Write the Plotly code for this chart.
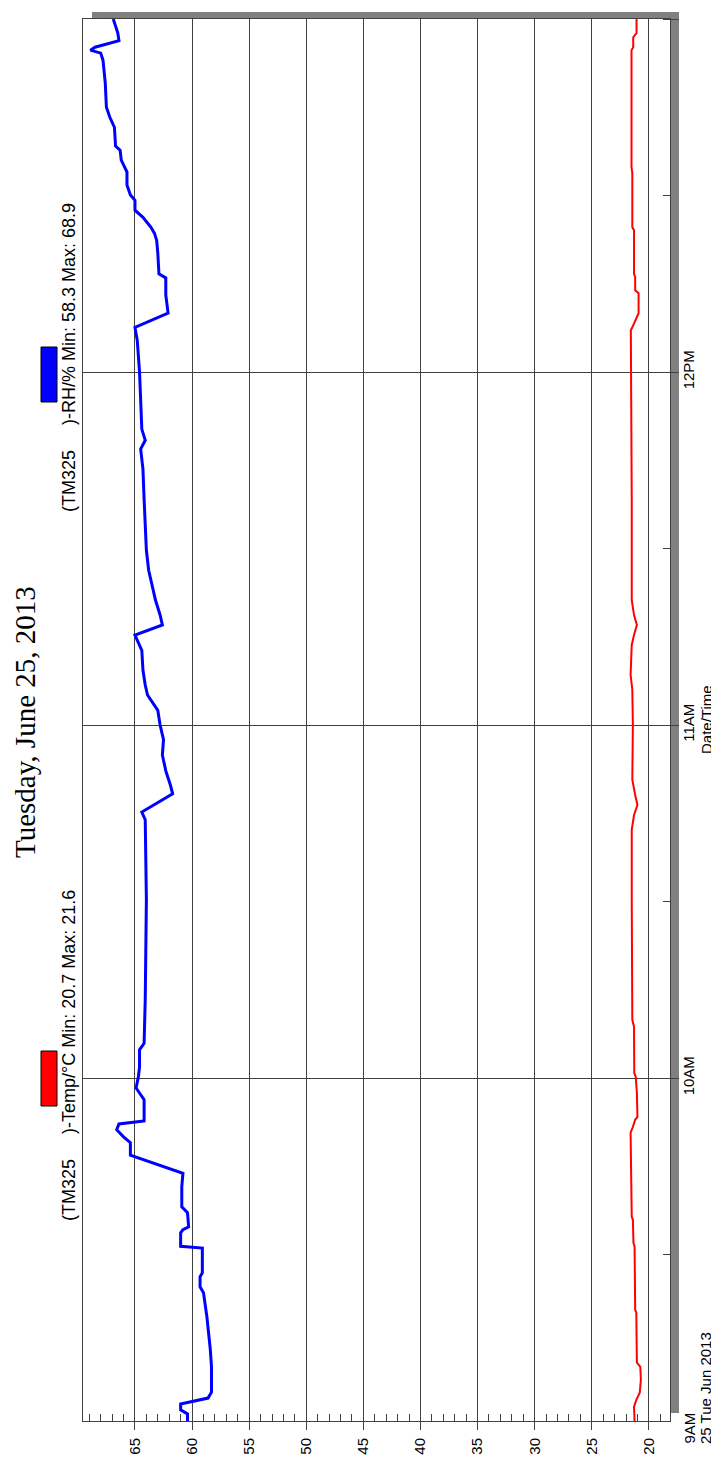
import plotly.graph_objects as go

DAY = "2013-06-25 "

rh_times = ["09:01:42","09:02:54","09:03:36","09:04:36","09:05:36","09:06:36","09:10:54","09:13:48","09:19:24","09:23:30",
            "09:24:30","09:26:12","09:26:54","09:31:06","09:31:24","09:33:42","09:34:12","09:34:42","09:37:06","09:38:06",
            "09:41:30","09:43:48","09:46:54","09:49:00","09:50:00","09:51:12","09:52:12","09:52:42","09:56:18","09:58:18",
            "10:00:12","10:01:54","10:04:48","10:05:54","10:13:18","10:30:18","10:43:54","10:45:12","10:48:18","10:49:48",
            "10:52:12","10:54:54","10:57:30","11:00:00","11:02:30","11:05:06","11:06:48","11:09:18","11:12:42","11:15:18",
            "11:17:00","11:18:42","11:21:12","11:23:48","11:26:18","11:29:42","11:33:18","11:38:24","11:43:30","11:46:54",
            "11:48:24","11:50:18","11:55:12","12:00:00","12:05:24","12:07:36","12:10:00","12:13:06","12:16:00","12:16:42",
            "12:20:12","12:22:24","12:23:36","12:24:36","12:26:18","12:27:30","12:29:12","12:30:06","12:31:48","12:34:00",
            "12:35:12","12:36:00","12:37:42","12:38:24","12:41:36","12:43:18","12:45:00","12:49:06","12:53:00","12:54:12",
            "12:54:42","12:55:12","12:56:18","12:57:36","13:00:00"]
rh_values = [60.4,60.4,61.0,61.0,58.6,58.3,58.3,58.4,58.7,59.0,
             59.3,59.3,59.1,59.1,61.0,61.0,60.8,60.3,60.4,60.9,
             60.9,60.8,65.4,65.4,66.0,66.6,66.4,64.2,64.2,64.9,
             64.7,64.6,64.6,64.2,64.1,64.0,64.1,64.4,61.7,61.9,
             62.3,62.6,62.5,62.8,63.0,63.9,64.1,64.3,64.4,65.0,
             62.6,62.8,63.2,63.5,63.8,64.0,64.1,64.2,64.3,64.5,
             64.1,64.4,64.5,64.6,64.8,65.0,62.1,62.3,62.3,62.9,
             63.0,63.1,63.3,63.6,64.3,65.0,65.0,65.4,65.7,65.7,
             66.0,66.2,66.3,66.7,66.8,67.2,67.5,67.6,67.8,68.0,
             68.9,68.5,66.4,66.5,66.9]

temp_times = ["09:01:42","09:04:06","09:05:18","09:06:30","09:08:42","09:10:54","09:11:36","09:20:06","09:20:36","09:31:18",
              "09:32:00","09:35:54","09:36:24","09:43:48","09:50:42","09:51:42","09:52:54","09:53:24","09:57:30","10:00:12",
              "10:00:54","10:08:42","10:09:54","10:30:18","10:42:12","10:44:42","10:46:24","10:48:06","10:50:42","11:00:00",
              "11:06:00","11:08:30","11:13:36","11:15:18","11:17:00","11:18:42","11:21:12","11:38:12","11:55:12","12:07:06",
              "12:07:36","12:08:48","12:10:00","12:13:24","12:13:54","12:16:06","12:16:42","12:24:06","12:24:36","12:33:48",
              "12:34:48","12:54:42","12:55:12","12:56:54","12:57:36","13:00:00"]
temp_values = [21.25,21.3,21.1,20.8,20.7,20.75,21.05,21.1,21.2,21.25,
               21.35,21.4,21.5,21.55,21.6,21.4,21.2,21.0,21.05,21.15,
               21.28,21.3,21.45,21.5,21.5,21.3,21.0,21.2,21.45,21.4,
               21.45,21.6,21.5,21.3,21.05,21.3,21.5,21.5,21.58,21.58,
               21.45,21.2,20.9,20.9,21.2,21.2,21.3,21.3,21.45,21.45,
               21.52,21.52,21.37,21.37,21.08,21.08]

value_ticks = [20, 25, 30, 35, 40, 45, 50, 55, 60, 65]
time_tickvals = ["10:00", "11:00", "12:00", "13:00"]
time_ticktext = ["10AM", "11AM", "12PM", "1PM"]
time_range = ["09:01:42", "13:00:00"]
value_range = [69.55, 18.15]

title_text = "Tuesday, June 25, 2013"
legend_temp = "(TM325\u00a0\u00a0\u00a0\u00a0\u00a0)-Temp/°C Min: 20.7 Max: 21.6"
legend_rh = "(TM325\u00a0\u00a0\u00a0\u00a0\u00a0)-RH/% Min: 58.3 Max: 68.9"
start_hour = "9AM"
start_date = "25 Tue Jun 2013"
axis_title = "Date/Time"

SANS = "Arial, Liberation Sans, sans-serif"
SERIF = "Times New Roman, Liberation Serif, serif"
GRID = "#404040"

# page coordinates of the plot area: x 83..670, y 19..1421
# (the html body adds an 8px offset, so the figure itself is 711 x 1449)
def px(x):
    return (x - 83) / 587.0

def py(y):
    return (1421 - y) / 1402.0

fig = go.Figure()
fig.add_trace(go.Scatter(x=temp_values, y=[DAY + t for t in temp_times], mode="lines",
                         line=dict(color="#FF0000", width=2), showlegend=False))
fig.add_trace(go.Scatter(x=rh_values, y=[DAY + t for t in rh_times], mode="lines",
                         line=dict(color="#0000FF", width=3), showlegend=False))

fig.update_layout(
    width=711, height=1449,
    margin=dict(l=75, r=49, t=11, b=36, autoexpand=False),
    paper_bgcolor="white", plot_bgcolor="white",
    font=dict(family=SANS, size=15, color="#000"),
    xaxis=dict(range=value_range, tickmode="array", tickvals=value_ticks,
               ticktext=[str(v) for v in value_ticks], tickangle=-90,
               ticks="outside", ticklen=8, tickcolor=GRID, tickwidth=1,
               ticklabelstandoff=2,
               showgrid=True, gridcolor=GRID, gridwidth=1,
               showline=True, linecolor=GRID, linewidth=1, mirror=True,
               zeroline=False, automargin=False,
               minor=dict(dtick=1, tick0=0, ticks="inside", ticklen=7, tickcolor=GRID, showgrid=False),
               tickfont=dict(family=SANS, size=15)),
    yaxis=dict(type="date", side="right",
               range=[DAY + t for t in time_range],
               tickmode="array", tickvals=[DAY + t for t in time_tickvals], ticktext=time_ticktext,
               tickangle=-90, ticks="outside", ticklen=8, tickcolor=GRID, tickwidth=1,
               ticklabelstandoff=-3,
               showgrid=True, gridcolor=GRID, gridwidth=1,
               showline=True, linecolor=GRID, linewidth=1, mirror=True,
               zeroline=False, automargin=False,
               minor=dict(dtick=1800000, tick0=DAY + "09:00", ticks="inside", ticklen=7,
                          tickcolor=GRID, showgrid=False),
               tickfont=dict(family=SANS, size=15)),
)

# drop shadow (top and right)
fig.add_shape(type="rect", xref="paper", yref="paper", x0=px(92), x1=px(679), y0=py(19), y1=py(12),
              fillcolor="#808080", line=dict(width=0), layer="below")
fig.add_shape(type="rect", xref="paper", yref="paper", x0=px(670), x1=px(679), y0=py(1413), y1=py(12),
              fillcolor="#808080", line=dict(width=0), layer="below")

# legend swatches
fig.add_shape(type="rect", xref="paper", yref="paper", x0=px(41), x1=px(57), y0=py(1106), y1=py(1051),
              fillcolor="#FF0000", line=dict(color="#000", width=1))
fig.add_shape(type="rect", xref="paper", yref="paper", x0=px(41), x1=px(57), y0=py(402), y1=py(347),
              fillcolor="#0000FF", line=dict(color="#000", width=1))

fig.add_annotation(text=legend_temp, xref="paper", yref="paper", x=px(69), y=py(1056),
                   textangle=-90, showarrow=False, xanchor="center", yanchor="middle",
                   font=dict(family=SANS, size=18, color="#000"))
fig.add_annotation(text=legend_rh, xref="paper", yref="paper", x=px(69), y=py(358),
                   textangle=-90, showarrow=False, xanchor="center", yanchor="middle",
                   font=dict(family=SANS, size=18, color="#000"))

fig.add_annotation(text=title_text, xref="paper", yref="paper", x=px(25), y=py(722),
                   textangle=-90, showarrow=False, xanchor="center", yanchor="middle",
                   font=dict(family=SERIF, size=29, color="#000"))

fig.add_annotation(text=start_hour, xref="paper", yref="paper", x=px(689), y=py(1446),
                   textangle=-90, showarrow=False, xanchor="center", yanchor="bottom",
                   font=dict(family=SANS, size=15, color="#000"))
fig.add_annotation(text=start_date, xref="paper", yref="paper", x=px(705), y=py(1446),
                   textangle=-90, showarrow=False, xanchor="center", yanchor="bottom",
                   font=dict(family=SANS, size=15, color="#000"))

fig.add_annotation(text=axis_title, xref="paper", yref="paper", x=px(706), y=py(720),
                   textangle=-90, showarrow=False, xanchor="center", yanchor="middle",
                   font=dict(family=SANS, size=15, color="#000"))

fig.write_html("out.html")
